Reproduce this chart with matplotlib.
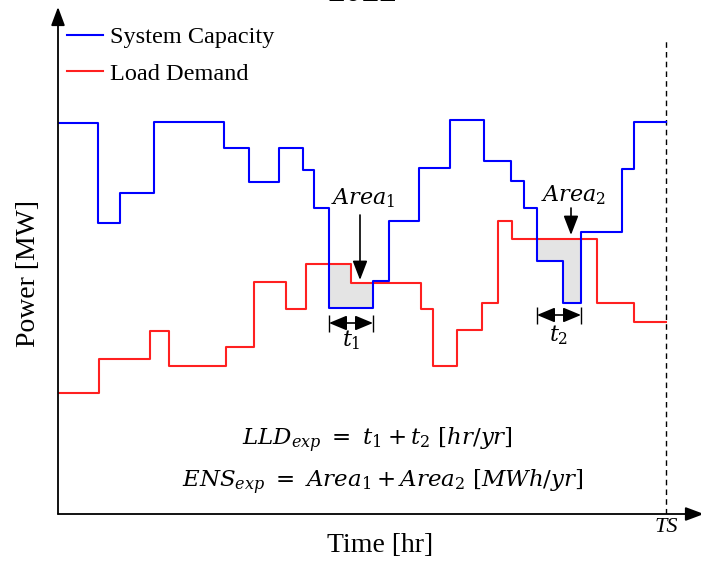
"""Reliability indices sketch: system capacity vs. load demand over time."""

import matplotlib
import numpy as np

matplotlib.use("Agg")
import matplotlib.pyplot as plt


plt.rcParams["font.family"] = ["Liberation Serif", "DejaVu Serif"]
plt.rcParams["mathtext.fontset"] = "dejavuserif"

# step functions (time edges, level held until next edge)
CAPACITY_EDGES = [0, 40, 62, 96, 166, 191, 221, 245, 256, 271, 315, 331,
                  361, 392, 426, 453, 466, 479, 505, 523, 564, 576, 608]
CAPACITY_LEVELS = [391, 291, 321, 392, 366, 332, 366, 344, 306, 206, 233,
                   293, 346, 394, 353, 333, 306, 253, 211, 282, 345, 392]
LOAD_EDGES = [0, 41, 92, 111, 168, 196, 228, 248, 293, 363, 375, 399, 424,
              440, 454, 539, 576, 608]
LOAD_LEVELS = [121, 155, 183, 148, 167, 232, 205, 250, 231, 205, 148, 184,
               211, 293, 275, 211, 192]

SERIES_LABELS = ["System Capacity", "Load Demand"]
AREA_LABELS = [r"$Area_1$", r"$Area_2$"]
DURATION_LABELS = [r"$t_1$", r"$t_2$"]
LLD_TEXT = r"$LLD_{exp}\ =\ t_1 + t_2\ [hr/yr]$"
ENS_TEXT = r"$ENS_{exp}\ =\ Area_1 + Area_2\ [MWh/yr]$"


def step_values(edges, levels, times):
    """Evaluate a post-step function at the given times."""
    index = np.searchsorted(edges, times, side="right") - 1
    index = np.clip(index, 0, len(levels) - 1)
    return np.asarray(levels)[index]


def shortage_intervals(times, deficit):
    """Return (start, end) pairs where load exceeds capacity."""
    intervals = []
    start = None
    for position in range(len(times) - 1):
        if deficit[position] and start is None:
            start = times[position]
        if not deficit[position] and start is not None:
            intervals.append((start, times[position]))
            start = None
    if start is not None:
        intervals.append((start, times[-1]))
    return intervals


figure = plt.figure(figsize=(7.01, 5.63), dpi=100)
axis = figure.add_axes([58 / 701, 49 / 563, 643 / 701, 514 / 563])
axis.set_xlim(0, 643)
axis.set_ylim(0, 514)
axis.axis("off")

times = np.union1d(CAPACITY_EDGES, LOAD_EDGES)
capacity = step_values(CAPACITY_EDGES, CAPACITY_LEVELS, times)
load = step_values(LOAD_EDGES, LOAD_LEVELS, times)
deficit = load > capacity
# a post-step segment needs its closing point included as well
fill_mask = deficit | np.concatenate([[False], deficit[:-1]])

axis.fill_between(times, capacity, load, where=fill_mask, step="post",
                  facecolor="#e4e4e4", edgecolor="none", zorder=1)

capacity_line, = axis.step(CAPACITY_EDGES, CAPACITY_LEVELS + [CAPACITY_LEVELS[-1]],
                           where="post", color="#0000ff", linewidth=1.5, zorder=3)
load_line, = axis.step(LOAD_EDGES, LOAD_LEVELS + [LOAD_LEVELS[-1]],
                       where="post", color="#ff2020", linewidth=1.5, zorder=2)

# axes with arrow heads
axis.annotate("", xy=(0, 507), xytext=(0, 0), annotation_clip=False,
              arrowprops=dict(arrowstyle="-|>,head_length=0.75,head_width=0.28",
                              color="black", lw=1.3, mutation_scale=15,
                              shrinkA=0, shrinkB=0))
axis.annotate("", xy=(646, 0), xytext=(0, 0), annotation_clip=False,
              arrowprops=dict(arrowstyle="-|>,head_length=0.75,head_width=0.28",
                              color="black", lw=1.3, mutation_scale=15,
                              shrinkA=0, shrinkB=0))

end_time = CAPACITY_EDGES[-1]
axis.plot([end_time, end_time], [0, 474], color="black", linewidth=1.0,
          linestyle=(0, (4, 3)), zorder=2)
axis.text(end_time, -13, "TS", ha="center", va="center", fontsize=16,
          fontstyle="italic")

# shortage annotations
area_arrow_x = [302, 513]
area_arrow_top = [299, 306]
area_arrow_tip = [234, 279]
area_text_y = [316, 319]
bar_offset = [15, 12]
duration_text_offset = [17, 20]
for index, (start, end) in enumerate(shortage_intervals(times, deficit)):
    low = step_values(CAPACITY_EDGES, CAPACITY_LEVELS,
                      np.array([start, end - 1])).min()
    bar_y = low - bar_offset[index]
    axis.annotate("", xy=(start, bar_y), xytext=(end, bar_y),
                  arrowprops=dict(arrowstyle="<|-|>,head_length=0.6,head_width=0.25",
                                  color="black", lw=1.2, mutation_scale=18,
                                  shrinkA=0, shrinkB=0))
    axis.vlines([start, end], bar_y - 9, bar_y + 8, color="black",
                linewidth=1.0)
    axis.text((start + end) / 2, bar_y - duration_text_offset[index],
              DURATION_LABELS[index], ha="center", va="center", fontsize=16)
    axis.annotate("", xy=(area_arrow_x[index], area_arrow_tip[index]),
                  xytext=(area_arrow_x[index], area_arrow_top[index]),
                  arrowprops=dict(arrowstyle="-|>,head_length=0.65,head_width=0.25",
                                  color="black", lw=1.2, mutation_scale=18,
                                  shrinkA=0, shrinkB=0))
    axis.text(area_arrow_x[index] + 3, area_text_y[index], AREA_LABELS[index],
              ha="center", va="center", fontsize=16)

axis.text(319, 74, LLD_TEXT, ha="center", va="center", fontsize=16.5)
axis.text(325, 32, ENS_TEXT, ha="center", va="center", fontsize=16.5)

axis.legend([capacity_line, load_line], SERIES_LABELS, loc="upper left",
            bbox_to_anchor=(67 / 701, 1 - 26 / 563),
            bbox_transform=figure.transFigure, frameon=False, fontsize=17.5,
            handlelength=1.5, handletextpad=0.25, labelspacing=0.6,
            borderpad=0, borderaxespad=0)

figure.text(29 / 701, 1 - 273 / 563, "Power [MW]", rotation=90,
            ha="center", va="center", fontsize=20)
figure.text(380 / 701, 1 - 546 / 563, "Time [hr]", ha="center",
            va="center", fontsize=20)
figure.text(362 / 701, 1 - 1 / 563, "2022", ha="center", va="baseline",
            fontsize=25, fontweight="bold")

figure.savefig("out.png", dpi=100)
plt.close(figure)
